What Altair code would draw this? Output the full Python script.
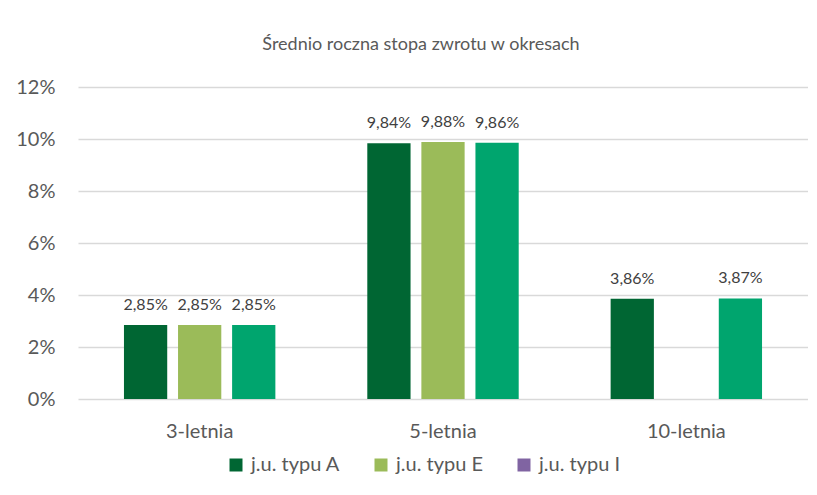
import altair as alt
import pandas as pd

okresy = ["3-letnia", "5-letnia", "10-letnia"]
typy = ["j.u. typu A", "j.u. typu E", "j.u. typu I"]
typ_A = [2.85, 9.84, 3.86]
typ_E = [2.85, 9.88, None]
typ_I = [2.85, 9.86, 3.87]
tytul = "Średnio roczna stopa zwrotu w okresach"

rows = []
for seria, wartosci in zip(typy, [typ_A, typ_E, typ_I]):
    for okres, v in zip(okresy, wartosci):
        if v is not None:
            rows.append({"okres": okres, "typ": seria, "wartosc": v})
df = pd.DataFrame(rows)

FONT = "Lato"
kolory_slupkow = ["#006633", "#9BBB59", "#00A56E"]
kolory_legendy = ["#006633", "#9BBB59", "#8064A2"]

base = alt.Chart(df).encode(
    x=alt.X(
        "okres:N",
        sort=okresy,
        scale=alt.Scale(paddingInner=0, paddingOuter=0),
        axis=alt.Axis(
            title=None, labelAngle=0, domain=False, ticks=False, grid=False,
            labelFontSize=20, labelFont=FONT, labelColor="#595959",
            labelPadding=22, labelBaseline="top",
        ),
    ),
    xOffset=alt.XOffset(
        "typ:N",
        scale=alt.Scale(domain=typy, paddingInner=0.2, paddingOuter=0.85),
    ),
    y=alt.Y(
        "wartosc:Q",
        scale=alt.Scale(domain=[0, 12], nice=False),
        axis=alt.Axis(
            title=None, values=[0, 2, 4, 6, 8, 10, 12],
            labelExpr="datum.value + '%'",
            domain=False, ticks=False, grid=True,
            gridColor="#D9D9D9", gridWidth=1.3,
            labelFontSize=20, labelFont=FONT, labelColor="#595959",
            labelPadding=23,
        ),
    ),
)

bars = base.mark_bar().encode(
    color=alt.Color(
        "typ:N",
        scale=alt.Scale(domain=typy, range=kolory_slupkow),
        legend=None,
    )
)

labels = base.transform_calculate(
    etykieta="replace(format(datum.wartosc, '.2f'), '.', ',') + '%'"
).mark_text(
    dy=-15, baseline="alphabetic", fontSize=16, font=FONT, color="#404040"
).encode(text="etykieta:N")

legend_layer = alt.Chart(df).mark_square(size=0).encode(
    color=alt.Color(
        "typ:N",
        scale=alt.Scale(domain=typy, range=kolory_legendy),
        legend=alt.Legend(
            title=None, orient="none", direction="horizontal",
            legendX=148, legendY=368,
            symbolType="square", symbolSize=169, symbolStrokeWidth=0,
            symbolOpacity=1,
            labelFontSize=20, labelFont=FONT, labelColor="#595959",
            columnPadding=30, labelOffset=5,
        ),
    )
)

chart = (
    alt.layer(bars, labels, legend_layer)
    .resolve_scale(color="independent")
    .properties(
        width=730,
        height=312,
        title=alt.TitleParams(
            tytul, fontSize=18, font=FONT, fontWeight="normal",
            color="#595959", anchor="middle", dx=-22, offset=23,
        ),
        autosize=alt.AutoSizeParams(type="none"),
        padding={"left": 70, "top": 79, "right": 0, "bottom": 80},
        background="white",
        view=alt.ViewBackground(stroke="transparent", strokeWidth=0),
    )
    .configure_view(stroke="transparent", strokeWidth=0)
    .configure_axisX(grid=False)
)

chart.save("out.html", embed_options={"renderer": "svg", "actions": False})
